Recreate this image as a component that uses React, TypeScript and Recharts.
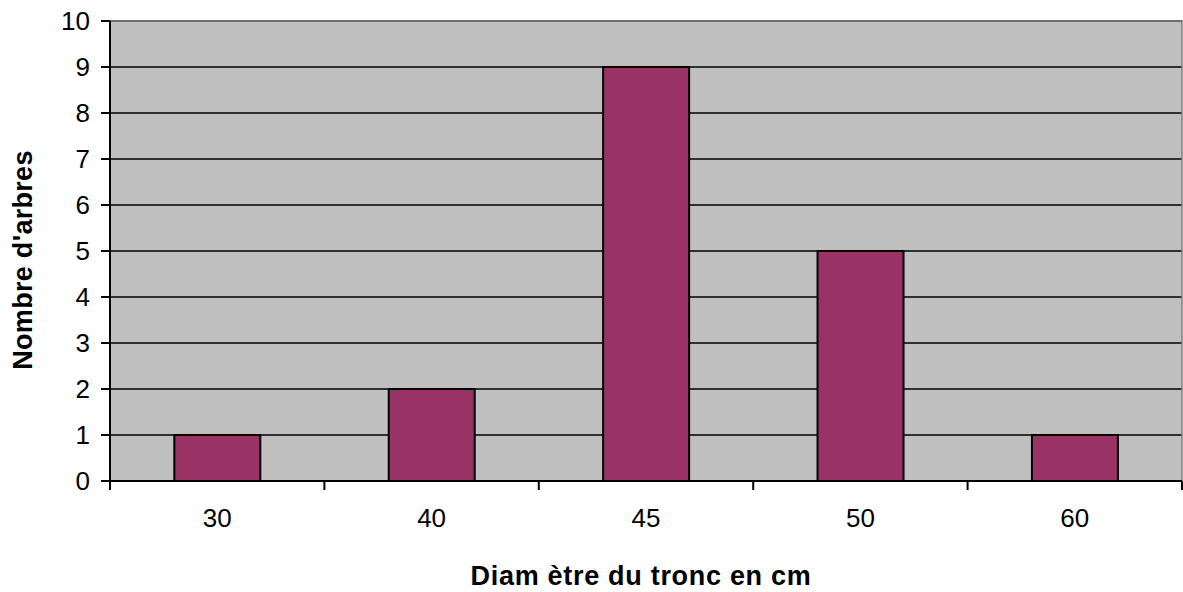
import { BarChart, Bar, XAxis, YAxis, CartesianGrid, ReferenceArea, Label } from "recharts";

const diameters = ["30", "40", "45", "50", "60"];
const treeCounts = [1, 2, 9, 5, 1];
const countTicks = [0, 1, 2, 3, 4, 5, 6, 7, 8, 9, 10];

const data = diameters.map((d, i) => ({ diametre: d, arbres: treeCounts[i] }));

const FONT = "'Liberation Sans', Arial, sans-serif";

// category label in the middle, small tick marks on the category boundaries
function DiameterTick(props: any) {
  const { x, y, payload, index } = props;
  const half = payload && payload.offset ? payload.offset : 107.2;
  const top = y - 28;
  return (
    <g>
      <line x1={x - half} y1={top} x2={x - half} y2={top + 9} stroke="#000" strokeWidth={2} />
      {index === diameters.length - 1 && (
        <line x1={x + half} y1={top} x2={x + half} y2={top + 9} stroke="#000" strokeWidth={2} />
      )}
      <text x={x} y={y} dy="0.71em" textAnchor="middle" fontSize={26} fontFamily={FONT} fill="#000">
        {payload.value}
      </text>
    </g>
  );
}

function XTitle(props: any) {
  const vb = props.viewBox || { x: 110, y: 481, width: 1072, height: 111 };
  return (
    <text
      x={vb.x + vb.width / 2 - 5}
      y={vb.y + vb.height - 7}
      textAnchor="middle"
      fontSize={27}
      fontWeight="bold"
      fontFamily={FONT}
      letterSpacing={0.7}
      fill="#000"
    >
      Diam ètre du tronc en cm
    </text>
  );
}

function YTitle(props: any) {
  const vb = props.viewBox || { x: 0, y: 21, width: 110, height: 460 };
  const cx = 23;
  const cy = vb.y + vb.height / 2 + 9;
  return (
    <text
      transform={`translate(${cx},${cy}) rotate(-90)`}
      textAnchor="middle"
      dominantBaseline="central"
      fontSize={27}
      fontWeight="bold"
      fontFamily={FONT}
      letterSpacing={0.3}
      fill="#000"
    >
      Nombre d'arbres
    </text>
  );
}

export default function App() {
  return (
    <div style={{ position: "absolute", left: 0, top: 0, background: "#fff", fontFamily: FONT }}>
      <BarChart
        width={1183}
        height={592}
        data={data}
        margin={{ top: 21, right: 1, left: 0, bottom: 0 }}
        barCategoryGap="30%"
      >
        <CartesianGrid vertical={false} fill="#C0C0C0" fillOpacity={1} stroke="#000" strokeWidth={1.5} />
        <ReferenceArea y1={0} y2={10} fill="none" stroke="#808080" strokeWidth={1.5} ifOverflow="visible" />
        <XAxis
          dataKey="diametre"
          height={111}
          interval={0}
          tickLine={false}
          tickSize={9}
          tickMargin={19}
          tick={<DiameterTick />}
          axisLine={{ stroke: "#000", strokeWidth: 2 }}
        >
          <Label content={<XTitle />} />
        </XAxis>
        <YAxis
          width={110}
          domain={[0, 10]}
          ticks={countTicks}
          interval={0}
          tickSize={9}
          tickMargin={11}
          tick={{ fontSize: 26, fill: "#000", fontFamily: FONT }}
          tickLine={{ stroke: "#000", strokeWidth: 2 }}
          axisLine={{ stroke: "#000", strokeWidth: 2 }}
        >
          <Label content={<YTitle />} />
        </YAxis>
        <Bar dataKey="arbres" fill="#993366" stroke="#000" strokeWidth={2} isAnimationActive={false} />
      </BarChart>
    </div>
  );
}
